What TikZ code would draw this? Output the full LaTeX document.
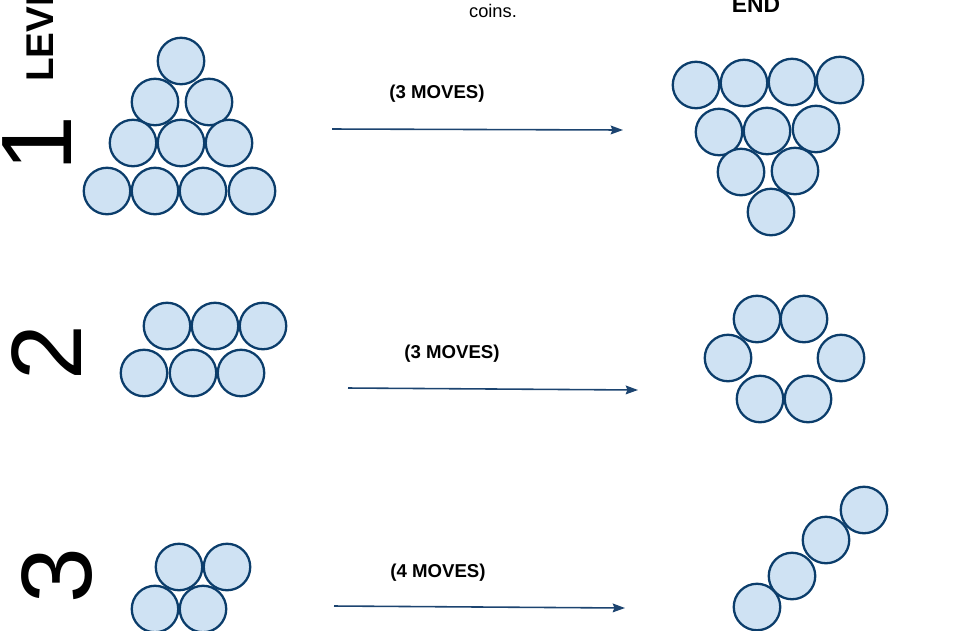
\documentclass[tikz,border=0pt]{standalone}
\usepackage{fontspec}
\setmainfont{Liberation Sans}
\usetikzlibrary{arrows.meta}
\definecolor{coinfill}{HTML}{CFE2F3}
\definecolor{coinedge}{HTML}{0B3D6B}
\definecolor{arrowblue}{HTML}{1C4470}
\begin{document}
\begin{tikzpicture}[
    x=0.02cm, y=-0.02cm,
    coin/.style={
        circle, draw=coinedge, fill=coinfill, line width=1.3pt,
        minimum size=0.93cm, inner sep=0pt
    },
    arrow/.style={-{Stealth[length=7pt, width=5pt, inset=1pt]}, line width=0.9pt, arrowblue},
    moves/.style={font=\fontsize{10.6}{12}\selectfont\bfseries, inner sep=0pt, anchor=base},
    levelnum/.style={font=\fontsize{57}{57}\selectfont, rotate=90, inner sep=0pt}
]
  \useasboundingbox (0,0) rectangle (960,630);
  \clip (0,0) rectangle (960,630);

  % Headings
  \node[font=\fontsize{10.4}{12}\selectfont, inner sep=0pt, anchor=base] (coinstext) at (493,17) {coins.};
  \node[font=\fontsize{13}{15}\selectfont\bfseries, inner sep=0pt, anchor=base] (endtext) at (756,12) {END};
  \node[font=\fontsize{22}{24}\selectfont\bfseries, rotate=90, inner sep=0pt, anchor=base west] (leveltext) at (53,82) {LEVEL};

  % Level numbers
  \node[levelnum] (num1) at (37,144) {1};
  \node[levelnum] (num2) at (47,353) {2};
  \node[levelnum] (num3) at (57,576) {3};

  % Level 1 start: triangle
  \node[coin] (s1a) at (181,61) {};
  \node[coin] (s1b) at (155,102) {};
  \node[coin] (s1c) at (209,102) {};
  \node[coin] (s1d) at (133,143) {};
  \node[coin] (s1e) at (181,143) {};
  \node[coin] (s1f) at (229,143) {};
  \node[coin] (s1g) at (107,191) {};
  \node[coin] (s1h) at (155,191) {};
  \node[coin] (s1i) at (203,191) {};
  \node[coin] (s1j) at (252,191) {};

  % Level 1 end: upside-down triangle
  \node[coin] (e1a) at (696,85) {};
  \node[coin] (e1b) at (744,83) {};
  \node[coin] (e1c) at (792,82) {};
  \node[coin] (e1d) at (840,80) {};
  \node[coin] (e1e) at (719,132) {};
  \node[coin] (e1f) at (767,131) {};
  \node[coin] (e1g) at (816,129) {};
  \node[coin] (e1h) at (741,172) {};
  \node[coin] (e1i) at (795,171) {};
  \node[coin] (e1j) at (771,212) {};

  % Level 2 start: two rows
  \node[coin] (s2a) at (167,326) {};
  \node[coin] (s2b) at (215,326) {};
  \node[coin] (s2c) at (263,326) {};
  \node[coin] (s2d) at (144,373) {};
  \node[coin] (s2e) at (193,373) {};
  \node[coin] (s2f) at (241,373) {};

  % Level 2 end: ring
  \node[coin] (e2a) at (757,319) {};
  \node[coin] (e2b) at (804,319) {};
  \node[coin] (e2c) at (728,358) {};
  \node[coin] (e2d) at (841,358) {};
  \node[coin] (e2e) at (760,399) {};
  \node[coin] (e2f) at (808,399) {};

  % Level 3 start: square
  \node[coin] (s3a) at (179,567) {};
  \node[coin] (s3b) at (227,567) {};
  \node[coin] (s3c) at (155,609) {};
  \node[coin] (s3d) at (203,609) {};

  % Level 3 end: diagonal line
  \node[coin] (e3a) at (864,510) {};
  \node[coin] (e3b) at (826,540) {};
  \node[coin] (e3c) at (792,576) {};
  \node[coin] (e3d) at (757,607) {};

  % Arrows and move counts
  \coordinate (from1) at (332,129);
  \coordinate (to1)   at (623,130);
  \coordinate (from2) at (348,388);
  \coordinate (to2)   at (638,390);
  \coordinate (from3) at (334,606);
  \coordinate (to3)   at (625,608);

  \draw[arrow] (from1) -- (to1);
  \draw[arrow] (from2) -- (to2);
  \draw[arrow] (from3) -- (to3);

  \node[moves] (moves1) at (437,98)  {(3 MOVES)};
  \node[moves] (moves2) at (452,358) {(3 MOVES)};
  \node[moves] (moves3) at (438,577) {(4 MOVES)};
\end{tikzpicture}
\end{document}
